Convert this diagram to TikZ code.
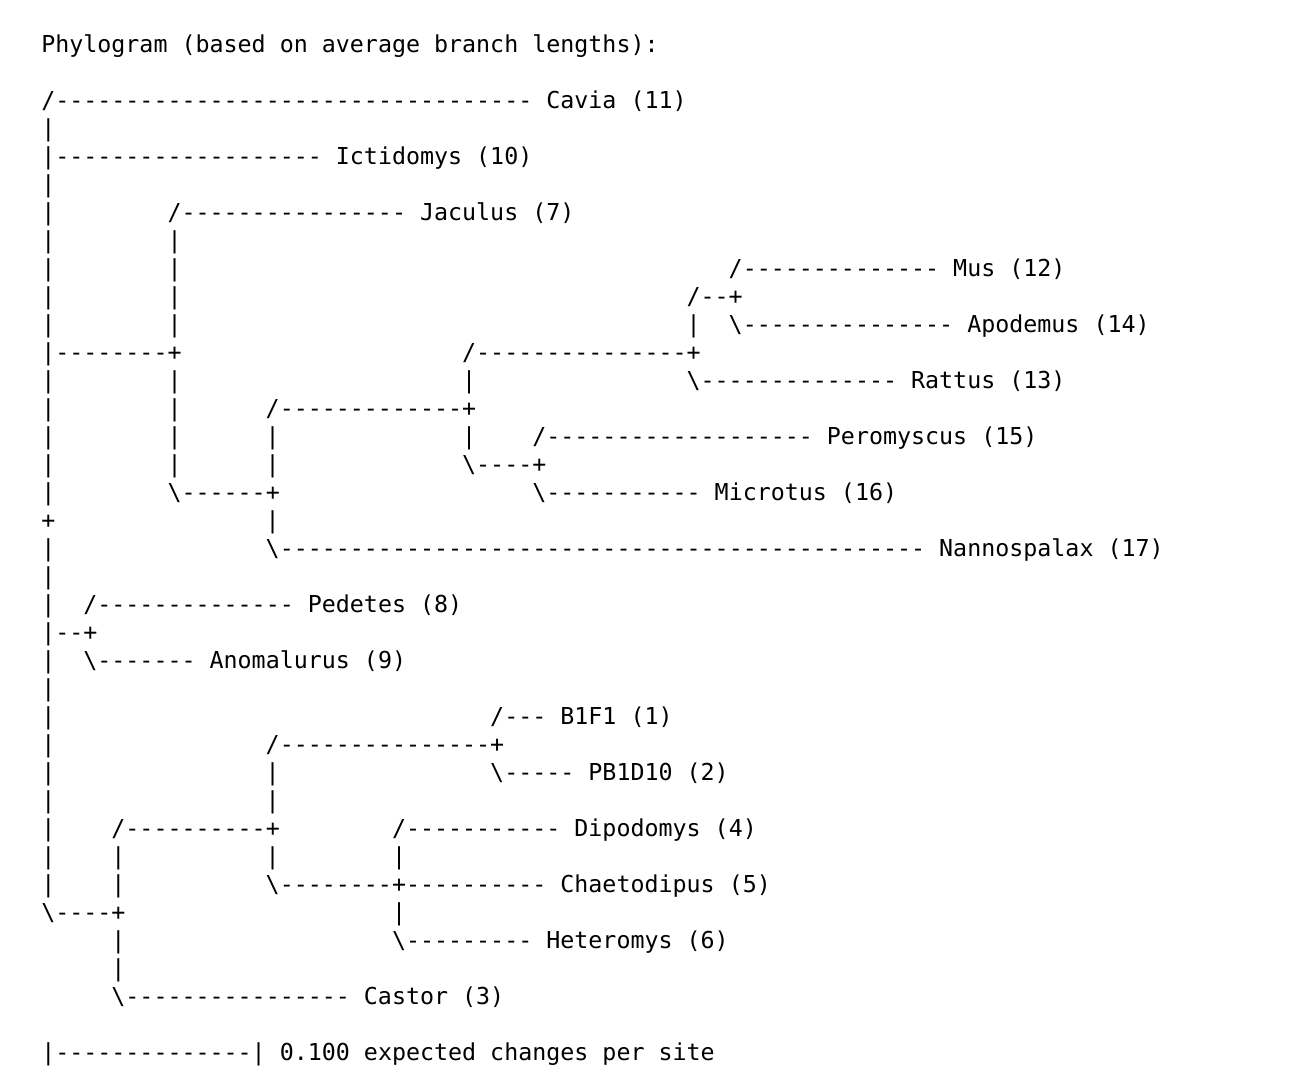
\documentclass[tikz,border=0pt]{standalone}
\usepackage{fontspec}
\setmonofont{DejaVu Sans Mono}
\newcommand\bs{\textbackslash}
\newcommand\cw{14.03}
\newcommand\cx{41}
\newcommand\seg[4]{\node[t] (#1) at ({\cx+#2*\cw},{52+#3*28}) {#4};}
\begin{document}
\begin{tikzpicture}[x=0.75pt,y=-0.75pt,
  t/.style={anchor=base west, inner sep=0pt, text=black,
    font=\ttfamily\fontsize{17.48}{21}\selectfont}]
\fill[white] (0,0) rectangle (1300,1089);
\useasboundingbox (0,0) rectangle (1300,1089);
\seg{t0}{0}{0}{Phylogram (based on average branch lengths):}
\seg{r2a}{0}{2}{/---------------------------------- Cavia (11)}
\seg{r3a}{0}{3}{|}
\seg{r4a}{0}{4}{|------------------- Ictidomys (10)}
\seg{r5a}{0}{5}{|}
\seg{r6a}{0}{6}{|}
\seg{r6b}{9}{6}{/---------------- Jaculus (7)}
\seg{r7a}{0}{7}{|}
\seg{r7b}{9}{7}{|}
\seg{r8a}{0}{8}{|}
\seg{r8b}{9}{8}{|}
\seg{r8c}{49}{8}{/-------------- Mus (12)}
\seg{r9a}{0}{9}{|}
\seg{r9b}{9}{9}{|}
\seg{r9c}{46}{9}{/--+}
\seg{r10a}{0}{10}{|}
\seg{r10b}{9}{10}{|}
\seg{r10c}{46}{10}{|}
\seg{r10d}{49}{10}{\bs--------------- Apodemus (14)}
\seg{r11a}{0}{11}{|--------+}
\seg{r11b}{30}{11}{/---------------+}
\seg{r12a}{0}{12}{|}
\seg{r12b}{9}{12}{|}
\seg{r12c}{30}{12}{|}
\seg{r12d}{46}{12}{\bs-------------- Rattus (13)}
\seg{r13a}{0}{13}{|}
\seg{r13b}{9}{13}{|}
\seg{r13c}{16}{13}{/-------------+}
\seg{r14a}{0}{14}{|}
\seg{r14b}{9}{14}{|}
\seg{r14c}{16}{14}{|}
\seg{r14d}{30}{14}{|}
\seg{r14e}{35}{14}{/------------------- Peromyscus (15)}
\seg{r15a}{0}{15}{|}
\seg{r15b}{9}{15}{|}
\seg{r15c}{16}{15}{|}
\seg{r15d}{30}{15}{\bs----+}
\seg{r16a}{0}{16}{|}
\seg{r16b}{9}{16}{\bs------+}
\seg{r16c}{35}{16}{\bs----------- Microtus (16)}
\seg{r17a}{0}{17}{+}
\seg{r17b}{16}{17}{|}
\seg{r18a}{0}{18}{|}
\seg{r18b}{16}{18}{\bs---------------------------------------------- Nannospalax (17)}
\seg{r19a}{0}{19}{|}
\seg{r20a}{0}{20}{|}
\seg{r20b}{3}{20}{/-------------- Pedetes (8)}
\seg{r21a}{0}{21}{|--+}
\seg{r22a}{0}{22}{|}
\seg{r22b}{3}{22}{\bs------- Anomalurus (9)}
\seg{r23a}{0}{23}{|}
\seg{r24a}{0}{24}{|}
\seg{r24b}{32}{24}{/--- B1F1 (1)}
\seg{r25a}{0}{25}{|}
\seg{r25b}{16}{25}{/---------------+}
\seg{r26a}{0}{26}{|}
\seg{r26b}{16}{26}{|}
\seg{r26c}{32}{26}{\bs----- PB1D10 (2)}
\seg{r27a}{0}{27}{|}
\seg{r27b}{16}{27}{|}
\seg{r28a}{0}{28}{|}
\seg{r28b}{5}{28}{/----------+}
\seg{r28c}{25}{28}{/----------- Dipodomys (4)}
\seg{r29a}{0}{29}{|}
\seg{r29b}{5}{29}{|}
\seg{r29c}{16}{29}{|}
\seg{r29d}{25}{29}{|}
\seg{r30a}{0}{30}{|}
\seg{r30b}{5}{30}{|}
\seg{r30c}{16}{30}{\bs--------+---------- Chaetodipus (5)}
\seg{r31a}{0}{31}{\bs----+}
\seg{r31b}{25}{31}{|}
\seg{r32a}{5}{32}{|}
\seg{r32b}{25}{32}{\bs--------- Heteromys (6)}
\seg{r33a}{5}{33}{|}
\seg{r34a}{5}{34}{\bs---------------- Castor (3)}
\seg{r36a}{0}{36}{|--------------| 0.100 expected changes per site}
\end{tikzpicture}
\end{document}
